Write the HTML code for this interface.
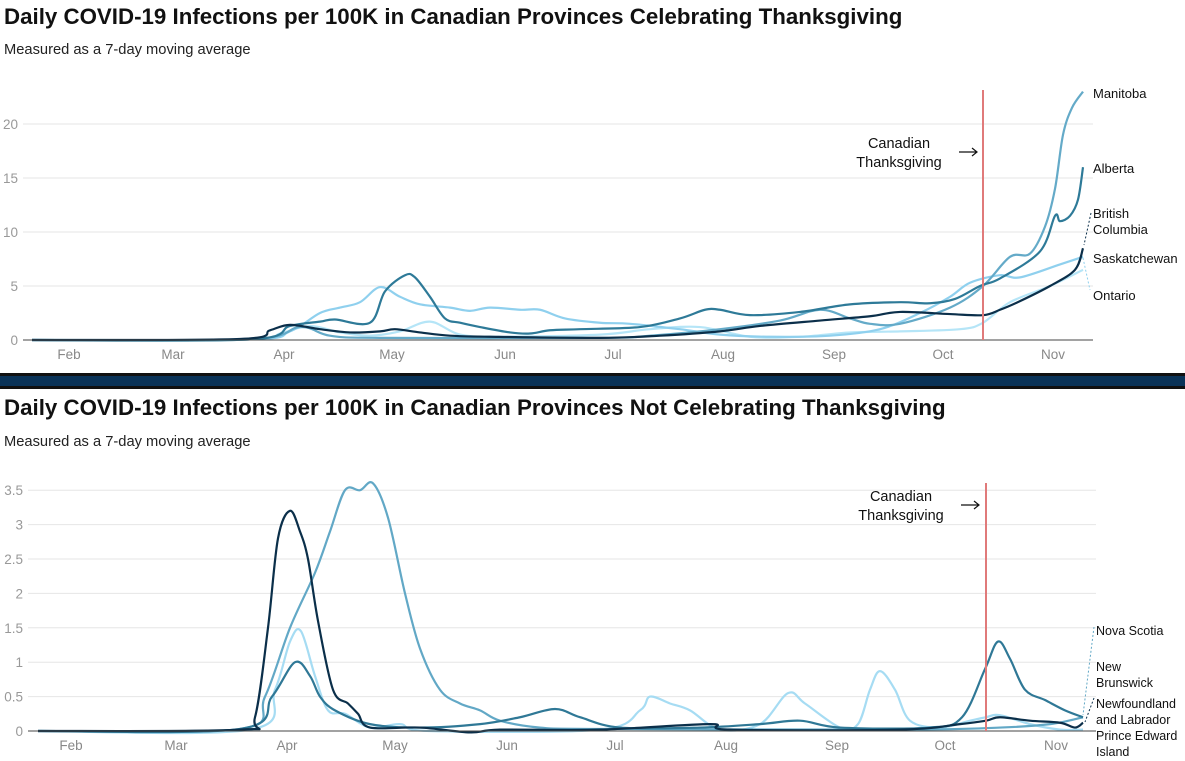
<!DOCTYPE html>
<html><head><meta charset="utf-8">
<style>
body{margin:0;background:#fff;width:1185px;height:761px;overflow:hidden;font-family:"Liberation Sans",sans-serif;}
svg{position:absolute;left:0;top:0}
</style></head><body>
<svg id="s" width="1185" height="761" xmlns="http://www.w3.org/2000/svg" font-family="Liberation Sans, sans-serif">
<text x="4" y="24" font-size="22.3" font-weight="bold" fill="#111">Daily COVID-19 Infections per 100K in Canadian Provinces Celebrating Thanksgiving</text>
<text x="4" y="54" font-size="14.7" fill="#222">Measured as a 7-day moving average</text>
<rect x="0" y="373" width="1185" height="16" fill="#111"/>
<rect x="0" y="376" width="1185" height="10" fill="#0a3358"/>
<text x="4" y="415" font-size="22.3" font-weight="bold" fill="#111">Daily COVID-19 Infections per 100K in Canadian Provinces Not Celebrating Thanksgiving</text>
<text x="4" y="446" font-size="14.7" fill="#222">Measured as a 7-day moving average</text>
<g id="g"></g>
</svg>
<script>
var NS="http://www.w3.org/2000/svg",g=document.getElementById('g');
function el(t,a,txt){var e=document.createElementNS(NS,t);for(var k in a)e.setAttribute(k,a[k]);if(txt!==undefined)e.textContent=txt;g.appendChild(e);return e;}
function path(pts,base,sc){var P=pts.map(function(p){return [p[0],base-p[1]*sc];});var d="M"+P[0][0]+","+P[0][1];
for(var i=0;i<P.length-1;i++){var p0=P[i-1]||P[i],p1=P[i],p2=P[i+1],p3=P[i+2]||p2;
d+=" C"+(p1[0]+(p2[0]-p0[0])/6)+","+(p1[1]+(p2[1]-p0[1])/6)+" "+(p2[0]-(p3[0]-p1[0])/6)+","+(p2[1]-(p3[1]-p1[1])/6)+" "+p2[0]+","+p2[1];}
return d;}
function chart(base,sc,ticks,labels,gx0,gx1,months,mx,series,tg,tgTop){
 ticks.forEach(function(t,i){var y=base-t*sc;if(t>0)el('line',{x1:gx0,x2:gx1,y1:y,y2:y,stroke:'#e6e6e6','stroke-width':1});
  el('text',{x:gx0-5,y:y+5,'font-size':13.5,fill:'#999','text-anchor':'end'},labels[i]);});
 months.forEach(function(m,i){el('text',{x:mx[i],y:base+19,'font-size':13.5,fill:'#888','text-anchor':'middle'},m);});
 series.forEach(function(s){el('path',{d:path(s.p,base,sc),fill:'none',stroke:s.c,'stroke-width':s.w||2.2,'stroke-linejoin':'round'});});
 el('line',{x1:gx0,x2:gx1,y1:base,y2:base,stroke:'#444','stroke-width':1});
 el('line',{x1:tg,x2:tg,y1:tgTop,y2:base,stroke:'#e07a7a','stroke-width':2});
}
var M=["Feb","Mar","Apr","May","Jun","Jul","Aug","Sep","Oct","Nov"];
chart(340,10.8,[0,5,10,15,20],["0","5","10","15","20"],23,1093,M,[69,173,284,392,505,613,723,834,943,1053],[
{c:'#b5e5f7',p:[[32,0],[250,0.05],[280,0.6],[310,1.3],[340,0.7],[370,0.4],[400,0.8],[430,1.7],[460,0.5],[500,0.3],[600,0.5],[650,1],[700,1.2],[750,0.3],[800,0.3],[850,0.7],[900,0.8],[960,1],[983,1.6],[1010,3.5],[1050,5],[1083,6.5]]},
{c:'#8fd0ee',p:[[32,0],[250,0.05],[290,0.8],[320,2.5],[340,3],[360,3.5],[380,4.9],[400,4],[420,3.3],[450,3],[470,2.7],[490,3],[520,2.8],[540,2.8],[565,2],[600,1.6],[630,1.5],[680,1],[720,0.5],[770,0.3],[830,0.4],[880,1],[920,2.5],[950,4],[970,5.3],[1000,6],[1020,5.8],[1060,7],[1083,7.7]]},
{c:'#64aac8',p:[[32,0],[250,0.05],[300,1.2],[330,0.4],[380,0.2],[600,0.2],[650,0.4],[720,1],[780,1.8],[820,2.8],[850,2],[870,1.5],[900,1.5],[950,3],[983,5],[1010,7.7],[1030,8],[1045,10.5],[1055,14],[1063,19],[1072,21.5],[1083,23]]},
{c:'#2e7a98',p:[[32,0],[250,0.05],[290,1.3],[320,1.7],[335,1.9],[370,1.6],[385,4.5],[405,6],[415,5.8],[430,4],[445,2],[460,1.6],[480,1.2],[510,0.7],[530,0.6],[550,0.9],[580,1],[640,1.2],[680,2],[705,2.8],[720,2.8],[750,2.3],[800,2.6],[850,3.3],[900,3.5],[930,3.4],[955,3.8],[980,5],[1000,5.7],[1040,8.2],[1055,11.5],[1060,11],[1070,11.5],[1078,13],[1083,16]]},
{c:'#0b2f4a',p:[[32,0],[240,0.1],[270,0.9],[290,1.4],[320,1.0],[350,0.7],[380,0.8],[395,1.0],[420,0.7],[450,0.4],[490,0.3],[600,0.2],[660,0.4],[720,0.8],[760,1.3],[820,1.8],[870,2.2],[900,2.6],[950,2.4],[983,2.3],[1000,2.8],[1020,3.6],[1050,5],[1075,6.5],[1083,8.5]]}
],983,90);
chart(731,68.8,[0,0.5,1,1.5,2,2.5,3,3.5],["0","0.5","1","1.5","2","2.5","3","3.5"],28,1096,M,[71,176,287,395,507,615,726,837,945,1056],[
{c:'#a6dcf3',p:[[38,0],[250,0.02],[275,0.6],[290,1.3],[301,1.45],[315,0.8],[328,0.3],[345,0.25],[370,0.05],[400,0.1],[430,0],[600,0.02],[640,0.3],[650,0.5],[670,0.4],[690,0.3],[720,0.02],[760,0.1],[788,0.55],[805,0.4],[840,0.05],[858,0.1],[870,0.6],[880,0.87],[895,0.6],[910,0.15],[940,0.05],[970,0.15],[986,0.2],[1000,0.23],[1030,0.1],[1060,0.02],[1083,0.02]]},
{c:'#62a8c6',p:[[38,0],[240,0.03],[265,0.5],[290,1.5],[315,2.3],[330,2.9],[345,3.5],[360,3.5],[373,3.6],[388,3.1],[405,2],[420,1.2],[440,0.6],[460,0.4],[480,0.3],[500,0.15],[540,0.05],[600,0.03],[900,0.02],[1000,0.05],[1050,0.1],[1083,0.2]]},
{c:'#2f7896',p:[[38,0],[240,0.03],[272,0.5],[295,1.0],[310,0.8],[320,0.5],[335,0.3],[370,0.1],[420,0.05],[480,0.1],[520,0.2],[555,0.32],[580,0.2],[620,0.05],[700,0.05],[760,0.1],[800,0.15],[840,0.05],[930,0.05],[962,0.2],[985,0.9],[998,1.3],[1010,1.05],[1025,0.6],[1045,0.45],[1065,0.3],[1083,0.2]]},
{c:'#0b2f4a',p:[[38,0],[240,0.02],[255,0.2],[268,1.5],[278,2.8],[290,3.2],[300,2.9],[308,2.5],[318,1.6],[333,0.6],[348,0.4],[358,0.25],[370,0.05],[420,0.05],[470,-0.02],[500,0.02],[600,0.02],[710,0.1],[730,0.02],[900,0.02],[960,0.1],[986,0.15],[1000,0.2],[1030,0.15],[1060,0.12],[1075,0.05],[1083,0.12]]}
],986,483);
function t(x,y,s,sz,a){el('text',{x:x,y:y,'font-size':sz||13,fill:'#111','text-anchor':a||'start'},s);}
t(1093,98,"Manitoba");t(1093,173,"Alberta");t(1093,218,"British");t(1093,234,"Columbia");t(1093,263,"Saskatchewan");t(1093,300,"Ontario");
el('path',{d:"M1091,213 L1084,245",stroke:'#0b2f4a','stroke-dasharray':'2,2',fill:'none'});
el('path',{d:"M1083,258 L1090,290",stroke:'#8fd0ee','stroke-dasharray':'2,2',fill:'none'});
t(899,148,"Canadian",14.5,'middle');t(899,167,"Thanksgiving",14.5,'middle');
el('path',{d:"M959,152 L977,152 M972,148 L977,152 L972,156",stroke:'#111','stroke-width':1.2,fill:'none'});
t(901,501,"Canadian",14.5,'middle');t(901,520,"Thanksgiving",14.5,'middle');
el('path',{d:"M961,505 L979,505 M974,501 L979,505 L974,509",stroke:'#111','stroke-width':1.2,fill:'none'});
t(1096,635,"Nova Scotia",12.5);t(1096,671,"New",12.5);t(1096,687,"Brunswick",12.5);t(1096,708,"Newfoundland",12.5);t(1096,724,"and Labrador",12.5);t(1096,740,"Prince Edward",12.5);t(1096,756,"Island",12.5);
el('path',{d:"M1094,627 L1083,715",stroke:'#62a8c6','stroke-dasharray':'2,2',fill:'none'});
el('path',{d:"M1094,698 L1085,722",stroke:'#0b2f4a','stroke-dasharray':'2,2',fill:'none'});
</script>
</body></html>
